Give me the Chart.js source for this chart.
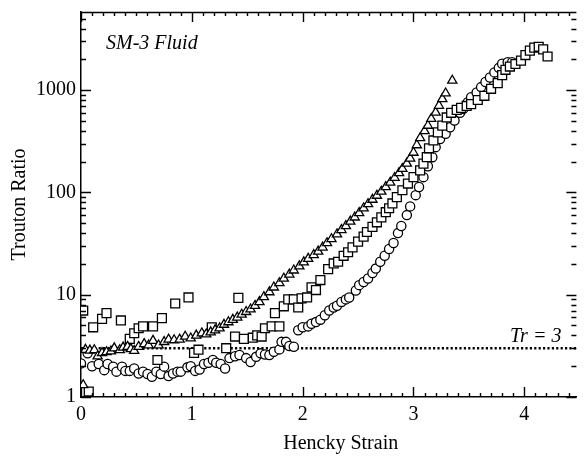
<!DOCTYPE html>
<html><head><meta charset="utf-8">
<script src="https://cdn.jsdelivr.net/npm/chart.js@4.4.0/dist/chart.umd.min.js"></script>
<style>html,body{margin:0;padding:0;background:#fff}canvas{display:block}</style>
</head><body>
<canvas id="c" width="584" height="456"></canvas>
<script>
// ---- data ----
const xTicks = [0, 1, 2, 3, 4];
const yTicks = [1, 10, 100, 1000];
const xLabel = 'Hencky Strain';
const yLabel = 'Trouton Ratio';
const fluidLabel = 'SM-3 Fluid';
const trLabel = 'Tr = 3';
const trValue = 3;

const triX = [0.02,0.04,0.08,0.12,0.15,0.19,0.23,0.27,0.30,0.35,0.38,0.42,0.45,0.48,0.52,0.57,0.61,0.65,0.70,0.75,0.79,0.84,0.89,0.94,0.99,1.04,1.09,1.13,1.17,1.21,1.25,1.29,1.33,1.37,1.41,1.45,1.49,1.53,1.57,1.61,1.65,1.70,1.74,1.79,1.83,1.88,1.92,1.97,2.01,2.05,2.10,2.14,2.18,2.22,2.26,2.31,2.35,2.39,2.43,2.47,2.51,2.55,2.59,2.63,2.67,2.71,2.75,2.79,2.83,2.87,2.90,2.94,2.97,3.00,3.03,3.06,3.10,3.13,3.16,3.20,3.23,3.26,3.29,3.35];
const triY = [1.31,2.9,2.85,2.88,2.5,2.7,2.75,2.8,3.0,2.88,3.05,3.1,2.95,2.83,3.1,3.3,3.2,3.55,3.2,3.46,3.65,3.6,3.65,3.9,3.75,4.0,4.2,4.1,4.3,4.5,4.7,5.1,5.4,5.7,6.0,6.4,6.8,7.2,7.8,8.5,9.5,10.6,11.8,13,14.4,15.8,17.3,19,20.8,22.5,24.5,26.5,29,32,35,39,43,47,52,57,63,70,77,85,93,102,113,125,139,155,170,192,215,245,290,340,398,450,524,605,705,820,930,1240];

const sqX = [0.02,0.07,0.11,0.19,0.23,0.36,0.44,0.48,0.52,0.56,0.65,0.69,0.73,0.85,0.97,1.02,1.06,1.18,1.31,1.39,1.42,1.47,1.55,1.59,1.63,1.66,1.72,1.75,1.79,1.83,1.87,1.92,1.96,1.99,2.04,2.08,2.12,2.16,2.23,2.28,2.32,2.37,2.41,2.45,2.50,2.55,2.58,2.63,2.67,2.71,2.75,2.78,2.81,2.85,2.90,2.95,3.00,3.06,3.09,3.12,3.14,3.18,3.22,3.26,3.30,3.34,3.39,3.43,3.48,3.52,3.58,3.64,3.70,3.76,3.80,3.83,3.87,3.92,3.97,4.01,4.05,4.09,4.13,4.17,4.21];
const sqY = [7.0,1.13,4.8,5.8,6.6,5.6,3.7,4.2,4.7,4.9,4.9,2.3,5.9,8.2,9.4,2.7,2.9,4.8,3.0,3.9,9.3,3.7,3.8,4.0,3.9,4.7,4.9,6.6,4.9,7.7,9.0,9.0,7.5,9.2,9.4,11.8,11.1,13.9,17.8,20.2,21,24,26,29,33,37,41,46,51,57,64,70,78,90,105,122,141,164,191,221,270,322,386,450,540,600,640,670,700,730,800,880,1030,1170,1400,1580,1700,1800,1940,2200,2430,2600,2650,2500,2130];

const cirX = [0.00,0.06,0.10,0.16,0.21,0.24,0.29,0.32,0.37,0.40,0.44,0.48,0.52,0.56,0.60,0.64,0.68,0.72,0.75,0.79,0.83,0.87,0.90,0.96,0.99,1.03,1.07,1.11,1.15,1.19,1.22,1.26,1.30,1.34,1.39,1.43,1.49,1.53,1.58,1.62,1.66,1.70,1.74,1.79,1.81,1.85,1.88,1.92,1.96,2.00,2.05,2.08,2.12,2.16,2.20,2.24,2.28,2.31,2.35,2.39,2.42,2.48,2.51,2.55,2.59,2.63,2.66,2.70,2.74,2.78,2.82,2.86,2.89,2.94,2.97,3.02,3.05,3.09,3.13,3.17,3.20,3.24,3.29,3.33,3.37,3.42,3.45,3.49,3.52,3.57,3.61,3.65,3.69,3.73,3.77,3.80,3.85,3.89];
const cirY = [2.13,2.67,2.0,2.1,1.83,2.1,1.98,1.77,1.98,1.8,1.8,1.9,1.7,1.77,1.68,1.58,1.77,1.68,1.98,1.6,1.7,1.77,1.77,1.95,2.0,1.8,1.86,2.1,2.16,2.3,2.16,2.1,1.9,2.4,2.5,2.57,2.4,2.2,2.47,2.67,2.6,2.57,2.77,2.92,3.46,3.46,3.15,3.1,4.5,4.8,4.9,5.2,5.4,5.7,6.3,7.0,7.5,7.8,8.5,9.0,9.4,11,12.4,13.3,14.4,16.3,18,21,24,28,32,40,47,60,73,94,113,141,180,221,277,333,375,434,505,600,655,760,850,950,1070,1200,1330,1490,1650,1810,1870,1870];

const xMin = 0, xMax = 4.47, yMin = 1, yMax = 5800;

const pts = (xs, ys) => xs.map((x, i) => ({x, y: ys[i]}));

Chart.defaults.font.family = '"Liberation Serif", "Times New Roman", serif';
Chart.defaults.color = '#000';

const frame = {
  id: 'frame',
  afterDraw(chart) {
    const {ctx, chartArea: a, scales: {x, y}} = chart;
    ctx.save();
    ctx.strokeStyle = '#000';
    ctx.lineWidth = 1.4;
    ctx.beginPath();
    ctx.moveTo(a.left, a.top + 0.5); ctx.lineTo(a.right, a.top + 0.5);
    for (let i = 0; i <= 45; i++) {
      const v = i / 10;
      if (v > xMax) break;
      const px = Math.round(x.getPixelForValue(v)) + 0.5;
      const L = i % 10 === 0 ? 10 : 4;
      ctx.moveTo(px, a.bottom); ctx.lineTo(px, a.bottom - L);
      ctx.moveTo(px, a.top); ctx.lineTo(px, a.top + L);
    }
    for (let d = 0; d < 4; d++) {
      for (let m = 1; m < 10; m++) {
        const v = m * Math.pow(10, d);
        if (v > yMax) break;
        const py = Math.round(y.getPixelForValue(v)) + 0.5;
        const L = m === 1 ? 10 : 5;
        ctx.moveTo(a.left, py); ctx.lineTo(a.left + L, py);
        ctx.moveTo(a.right, py); ctx.lineTo(a.right - L, py);
      }
    }
    ctx.stroke();
    ctx.fillStyle = '#000';
    ctx.textBaseline = 'alphabetic';
    ctx.font = '20px "Liberation Serif"';
    ctx.textAlign = 'center';
    ctx.fillText(xLabel, (a.left + a.right) / 2 + 12, 449);
    ctx.font = 'italic 20px "Liberation Serif"';
    ctx.textAlign = 'left';
    ctx.fillText(fluidLabel, a.left + 25, a.top + 37);
    ctx.textAlign = 'right';
    ctx.fillText(trLabel, a.right - 15, y.getPixelForValue(trValue) - 6);
    ctx.restore();
  }
};

const mk = (style, r) => ({
  showLine: false, pointStyle: style, pointRadius: r, pointHoverRadius: r,
  pointBorderColor: '#000', pointBackgroundColor: '#fff', pointBorderWidth: 1.3
});

new Chart(document.getElementById('c'), {
  type: 'scatter',
  data: {
    datasets: [
      Object.assign({label: 'triangles', data: pts(triX, triY)}, mk('triangle', 5.3)),
      Object.assign({label: 'squares', data: pts(sqX, sqY)}, mk('rect', 6.3)),
      Object.assign({label: 'circles', data: pts(cirX, cirY)}, mk('circle', 4.6)),
      {type: 'line', label: 'Tr = 3', data: [{x: xMin, y: trValue}, {x: xMax, y: trValue}],
       borderColor: '#000', borderWidth: 2.4, borderDash: [2.2, 2.2], pointRadius: 0, fill: false}
    ]
  },
  options: {
    responsive: false, animation: false, devicePixelRatio: 1,
    layout: {padding: {top: 12, right: 2, left: 0, bottom: 0}},
    plugins: {legend: {display: false}, tooltip: {enabled: false}},
    scales: {
      x: {
        type: 'linear', min: xMin, max: xMax,
        afterBuildTicks: s => { s.ticks = xTicks.map(v => ({value: v})); },
        afterFit: s => { s.height = 59; s.paddingRight = 0; s.paddingLeft = 0; },
        ticks: {font: {size: 20}, color: '#000', padding: 6, maxRotation: 0, autoSkip: false,
                callback: v => String(v)},
        grid: {display: false, drawTicks: false},
        border: {display: true, color: '#000', width: 1.5},
        title: {display: false, text: xLabel}
      },
      y: {
        type: 'logarithmic', min: yMin, max: yMax,
        afterBuildTicks: s => { s.ticks = yTicks.map(v => ({value: v})); },
        afterFit: s => { s.width = 81; s.paddingTop = 0; s.paddingBottom = 0; },
        ticks: {font: {size: 20}, color: '#000', padding: 5, autoSkip: false,
                callback: v => String(v)},
        grid: {display: false, drawTicks: false},
        border: {display: true, color: '#000', width: 1.5},
        title: {display: true, text: yLabel, font: {size: 20}, color: '#000', padding: {top: 8, bottom: 0}}
      }
    }
  },
  plugins: [frame]
});
</script>
</body></html>
